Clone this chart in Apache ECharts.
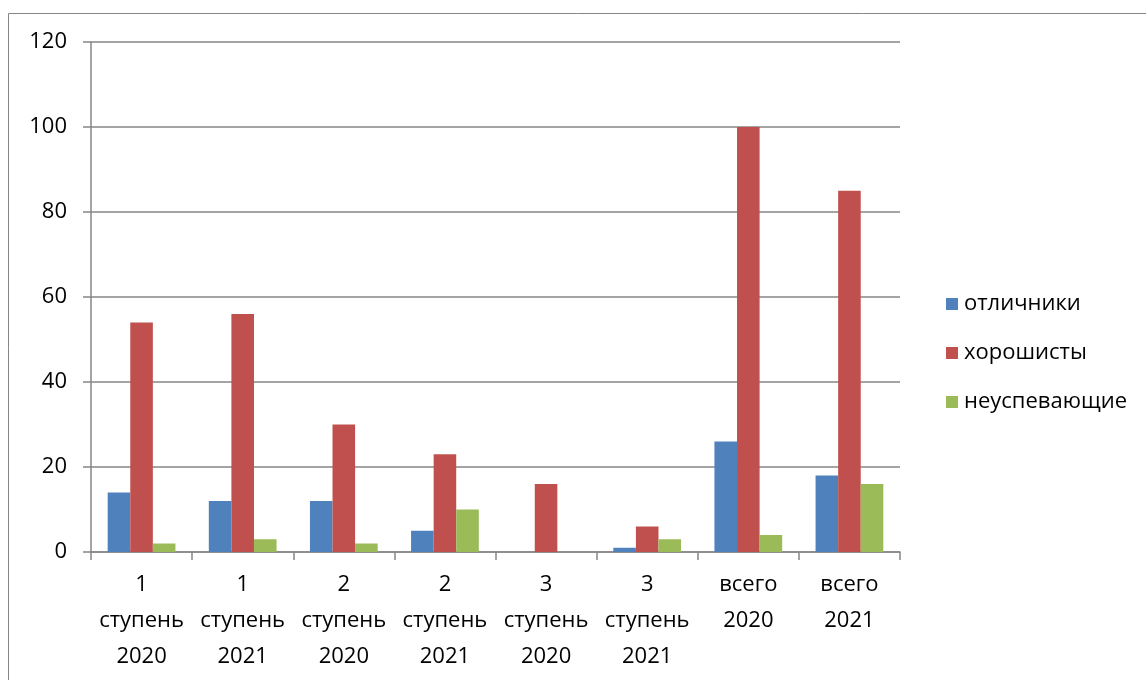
<!DOCTYPE html>
<html>
<head>
<meta charset="utf-8">
<script src="https://cdn.jsdelivr.net/npm/echarts@6/dist/echarts.min.js"></script>
<style>html,body{margin:0;padding:0;background:#fff}#c{width:1146px;height:680px}</style>
</head>
<body>
<div id="c"></div>
<script>
var categories = ['1\nступень\n2020','1\nступень\n2021','2\nступень\n2020','2\nступень\n2021','3\nступень\n2020','3\nступень\n2021','всего\n2020','всего\n2021'];
var seriesNames = ['отличники','хорошисты','неуспевающие'];
var excellent = [14, 12, 12, 5, 0, 1, 26, 18];
var good = [54, 56, 30, 23, 16, 6, 100, 85];
var failing = [2, 3, 2, 10, 0, 3, 4, 16];
var yTicks = {min: 0, max: 120, interval: 20};

var font = '"Open Sans", "Noto Sans", sans-serif';
var chart = echarts.init(document.getElementById('c'));
function bar(name, data, color) {
  return {name: name, type: 'bar', data: data, barGap: '0%', barCategoryGap: '33%',
    itemStyle: {color: color}};
}
chart.setOption({
  animation: false,
  textStyle: {fontFamily: font},
  graphic: [{type: 'rect', shape: {x: 8.5, y: 13.5, width: 1300, height: 900},
    style: {fill: 'none', stroke: '#868686', lineWidth: 1}, silent: true}],
  grid: {left: 91, right: 246, top: 42, bottom: 128},
  legend: {orient: 'vertical', left: 941, top: 288, itemWidth: 12, itemHeight: 12, itemGap: 27,
    icon: 'rect', data: seriesNames,
    textStyle: {fontSize: 22, lineHeight: 22, color: '#000', fontFamily: font, padding: [0, 0, 0, 1]}},
  xAxis: {type: 'category', data: categories,
    axisLine: {lineStyle: {color: '#868686', width: 1.5}},
    axisTick: {show: true, length: 8, lineStyle: {color: '#868686', width: 1.5}},
    axisLabel: {color: '#000', fontSize: 22, lineHeight: 36, margin: 15, interval: 0, fontFamily: font}},
  yAxis: {type: 'value', min: yTicks.min, max: yTicks.max, interval: yTicks.interval,
    axisLine: {show: true, lineStyle: {color: '#868686', width: 1.5}},
    axisTick: {show: true, length: 8, lineStyle: {color: '#868686', width: 1.5}},
    splitLine: {lineStyle: {color: '#868686', width: 1.5}},
    axisLabel: {color: '#000', fontSize: 22, margin: 24, fontFamily: font}},
  series: [
    bar(seriesNames[0], excellent, '#4F81BD'),
    bar(seriesNames[1], good, '#C0504D'),
    bar(seriesNames[2], failing, '#9BBB59')
  ]
});
</script>
</body>
</html>
